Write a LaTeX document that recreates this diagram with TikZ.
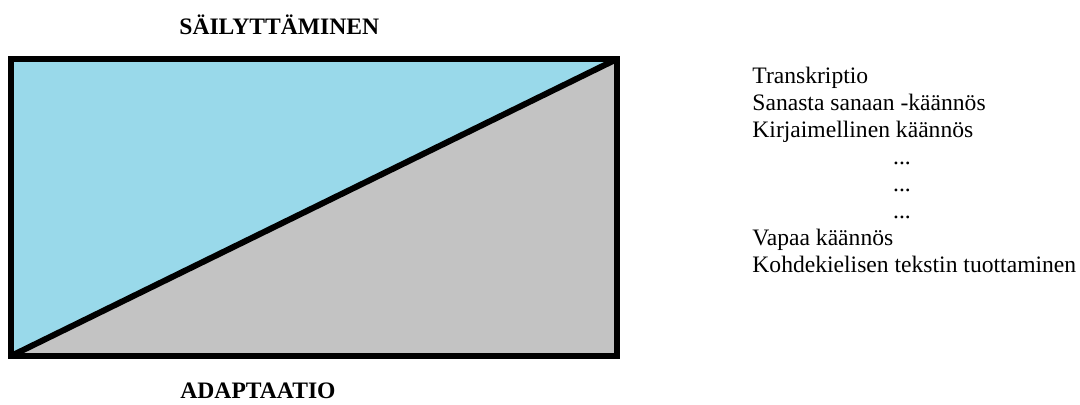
\documentclass[tikz,border=0pt]{standalone}
\usepackage{fontspec}
\setmainfont{Liberation Serif}
\usepackage{tikz}
\usetikzlibrary{positioning}
\definecolor{turkoosi}{HTML}{99D9EA}
\definecolor{harmaa}{HTML}{C3C3C3}

\begin{document}
\begin{tikzpicture}[
    x=0.5pt, y=-0.5pt,
    otsikko/.style={anchor=base west, inner sep=0pt, font=\fontsize{11.8}{14}\selectfont\bfseries},
    rivi/.style={anchor=base west, inner sep=0pt, font=\fontsize{11.8}{14}\selectfont},
    pisteet/.style={anchor=base, inner sep=0pt, font=\fontsize{11.8}{14}\selectfont},
    reuna/.style={line width=3pt, black, line join=miter}
]
\useasboundingbox (0,0) rectangle (1080,405);

% kulmapisteet
\coordinate (vy) at (11,59);
\coordinate (oy) at (617,59);
\coordinate (va) at (11,356);
\coordinate (oa) at (617,356);

% kolmiot
\fill[turkoosi] (vy) -- (oy) -- (va) -- cycle;
\fill[harmaa] (va) -- (oy) -- (oa) -- cycle;

% kehys ja lävistäjä
\draw[reuna] (vy) rectangle (oa);
\draw[reuna] (va) -- (oy);

% otsikot
\node[otsikko] (sailyttaminen) at (179,35) {SÄILYTTÄMINEN};
\node[otsikko] (adaptaatio) at (180,398) {ADAPTAATIO};

% käännöstavat
\node[rivi] (transkriptio) at (752,84) {Transkriptio};
\node[rivi] (sanasta) at (752,111) {Sanasta sanaan -käännös};
\node[rivi] (kirjaimellinen) at (752,138) {Kirjaimellinen käännös};
\node[pisteet] (pisteet1) at (902,165) {...};
\node[pisteet] (pisteet2) at (902,192) {...};
\node[pisteet] (pisteet3) at (902,219) {...};
\node[rivi] (vapaa) at (752,246) {Vapaa käännös};
\node[rivi] (kohdekielinen) at (752,273) {Kohdekielisen tekstin tuottaminen};

\end{tikzpicture}
\end{document}
